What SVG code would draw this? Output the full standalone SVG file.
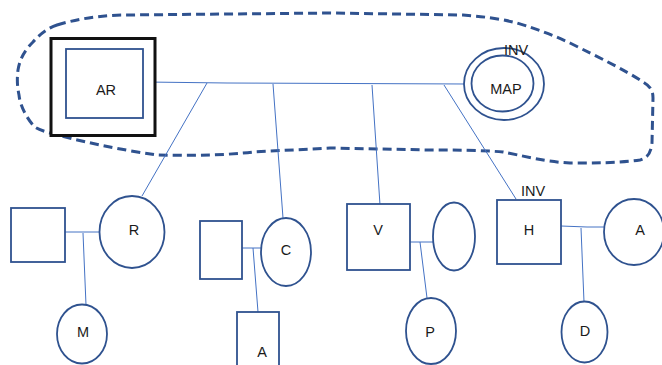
<svg xmlns="http://www.w3.org/2000/svg" width="662" height="365" viewBox="0 0 662 365">
  <style>
    .shape { fill: #ffffff; stroke: #2f528f; stroke-width: 1.8; }
    .link { fill: none; stroke: #4472c4; stroke-width: 1; }
    .outline { fill: none; stroke: #2f528f; stroke-width: 3; stroke-dasharray: 9 5; }
    .label { font-family: "Liberation Sans", Arial, sans-serif; font-size: 14.5px; fill: #1a1a1a; text-anchor: middle; dominant-baseline: central; }
  </style>
  <rect width="662" height="365" fill="#ffffff"/>

  <!-- dashed boundary around the top group -->
  <path class="outline" d="M57,25 C80,18 105,15 127,15 L330,13 L463,15 C490,17 505,20 517,23 C540,30 555,36 570,43 C600,58 625,70 643,82 C650,86 653,90 653,98 L652,143 C651,152 648,158 640,160 C620,163 595,163 570,163 C545,162 520,155 503,152 C480,150 455,150 430,150 L330,148 L253,152 C230,155 190,156 157,155 C120,150 75,140 50,133 C40,130 35,128 33,125 C26,117 20,105 19,95 C17,85 17,78 18,70 C20,58 25,50 33,42 C40,34 48,28 57,25 Z"/>

  <g id="connectors">
    <polyline class="link" points="146,82 227,83 467,84"/>
    <line class="link" x1="207" y1="83" x2="142" y2="196"/>
    <line class="link" x1="273" y1="84" x2="283" y2="218"/>
    <line class="link" x1="372" y1="85" x2="380" y2="205"/>
    <line class="link" x1="444" y1="85" x2="516" y2="199"/>
    <line class="link" x1="62" y1="232" x2="99" y2="232"/>
    <line class="link" x1="83" y1="233" x2="86" y2="305"/>
    <line class="link" x1="242" y1="248" x2="267" y2="248"/>
    <line class="link" x1="253" y1="248" x2="258" y2="312"/>
    <line class="link" x1="408" y1="242" x2="437" y2="242"/>
    <line class="link" x1="420" y1="242" x2="427" y2="298"/>
    <polyline class="link" points="561,226 587,227 610,227"/>
    <line class="link" x1="581" y1="228" x2="584" y2="302"/>
  </g>

  <g id="node-ar">
    <rect x="51" y="38.5" width="104" height="97" fill="#ffffff" stroke="#111111" stroke-width="3"/>
    <rect class="shape" x="66" y="49" width="77" height="69"/>
    <text class="label" x="106" y="90">AR</text>
  </g>

  <g id="node-map">
    <ellipse class="shape" cx="504" cy="84" rx="40" ry="36"/>
    <ellipse class="shape" cx="502.5" cy="83.5" rx="31" ry="28"/>
    <text class="label" x="506" y="89">MAP</text>
    <text class="label" x="516" y="50">INV</text>
  </g>

  <g id="node-r-partner">
    <rect class="shape" x="11" y="208" width="54" height="54"/>
  </g>
  <g id="node-r">
    <ellipse class="shape" cx="132" cy="232" rx="32.5" ry="36"/>
    <text class="label" x="134" y="230">R</text>
  </g>
  <g id="node-m">
    <ellipse class="shape" cx="82" cy="334" rx="25" ry="29.5"/>
    <text class="label" x="83" y="332">M</text>
  </g>

  <g id="node-c-partner">
    <rect class="shape" x="200" y="221" width="42" height="58"/>
  </g>
  <g id="node-c">
    <ellipse class="shape" cx="286" cy="252" rx="25" ry="34"/>
    <text class="label" x="286" y="250">C</text>
  </g>
  <g id="node-a-child">
    <rect class="shape" x="237" y="312" width="42" height="56"/>
    <text class="label" x="262" y="352">A</text>
  </g>

  <g id="node-v">
    <rect class="shape" x="347" y="204" width="63" height="66"/>
    <text class="label" x="378" y="230">V</text>
  </g>
  <g id="node-v-partner">
    <ellipse class="shape" cx="454" cy="236.5" rx="21" ry="34"/>
  </g>
  <g id="node-p">
    <ellipse class="shape" cx="431" cy="331" rx="25" ry="33"/>
    <text class="label" x="430" y="332">P</text>
  </g>

  <g id="node-h">
    <rect class="shape" x="497" y="200" width="64" height="64"/>
    <text class="label" x="529" y="230">H</text>
    <text class="label" x="533" y="191">INV</text>
  </g>
  <g id="node-a">
    <ellipse class="shape" cx="634" cy="232" rx="30" ry="33"/>
    <text class="label" x="640" y="230">A</text>
  </g>
  <g id="node-d">
    <ellipse class="shape" cx="584.5" cy="332" rx="23" ry="30.5"/>
    <text class="label" x="585" y="331">D</text>
  </g>
</svg>
